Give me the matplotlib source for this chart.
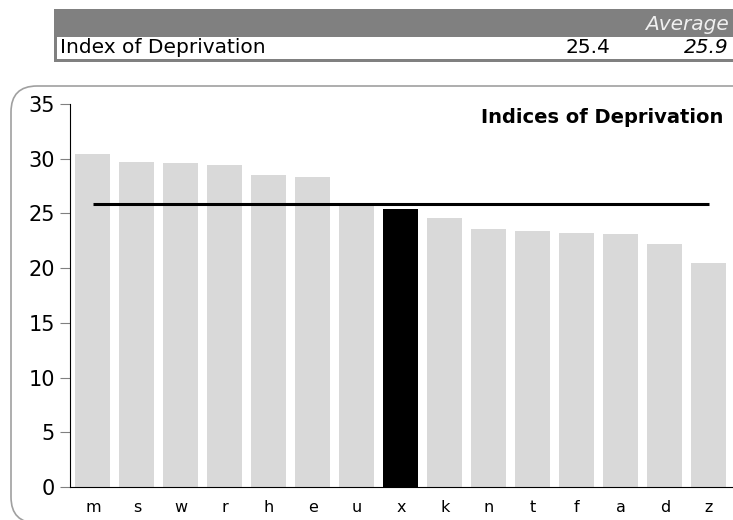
import matplotlib
matplotlib.use("Agg")
import matplotlib.pyplot as plt
from matplotlib.patches import FancyBboxPatch, Rectangle
from matplotlib.transforms import IdentityTransform

# area codes in ranked order and their deprivation scores
areas = ["m", "s", "w", "r", "h", "e", "u", "x", "k", "n", "t", "f", "a", "d", "z"]
scores = [30.4, 29.7, 29.6, 29.4, 28.5, 28.3, 25.8, 25.4, 24.6, 23.6, 23.4, 23.2, 23.1, 22.2, 20.5]
highlight = "x"
area_value = 25.4
average = 25.9

BAR, HI, GREY = "#d9d9d9", "#000000", "#808080"
W, H = 733, 520

fig = plt.figure(figsize=(W / 100, H / 100), dpi=100)
px = IdentityTransform()

# header table: grey band with "Average", white row with the values
fig.patches.append(Rectangle((54, H - 62), W - 54, 53, transform=px,
                             facecolor=GREY, edgecolor="none"))
fig.patches.append(Rectangle((57, H - 59), W - 57, 22, transform=px,
                             facecolor="white", edgecolor="none"))
fig.text(729 / W, 1 - 24 / H, "Average", ha="right", va="center",
         style="italic", color="#f0f0f0", fontsize=14.5)
fig.text(60 / W, 1 - 47.5 / H, "Index of Deprivation", ha="left", va="center",
         fontsize=14.5)
fig.text(610 / W, 1 - 47.5 / H, f"{area_value}", ha="right", va="center",
         fontsize=14.5)
fig.text(729 / W, 1 - 47.5 / H, f"{average}", ha="right", va="center",
         style="italic", fontsize=14.5)

# rounded frame around the chart
fig.patches.append(FancyBboxPatch((11, -3), 760, H - 86 + 3, transform=px,
                                  boxstyle="round,pad=0,rounding_size=26",
                                  facecolor="none", edgecolor="#a0a0a0", lw=1.2))

ax = fig.add_axes([70 / W, 33 / H, (W - 70) / W, (487 - 104) / H])
x = range(len(areas))
colors = [HI if a == highlight else BAR for a in areas]
ax.bar(x, scores, width=0.8, color=colors, zorder=2)
ax.hlines(average, 0, len(areas) - 1, color="black", lw=2.2, zorder=3)

ax.set_xlim(-0.52, 14.55)
ax.set_ylim(0, 35)
ax.set_yticks(range(0, 36, 5))
ax.set_xticks(list(x))
ax.set_xticklabels(areas)
ax.tick_params(axis="y", length=7, color=GREY, labelsize=15, pad=4)
ax.tick_params(axis="x", length=0, labelsize=11.5, pad=9)
for s in ("top", "right"):
    ax.spines[s].set_visible(False)
ax.patch.set_visible(False)

ax.text(0.985, 0.965, "Indices of Deprivation", transform=ax.transAxes,
        ha="right", va="center", fontsize=14, fontweight="bold")

fig.savefig("out.png", dpi=100)
